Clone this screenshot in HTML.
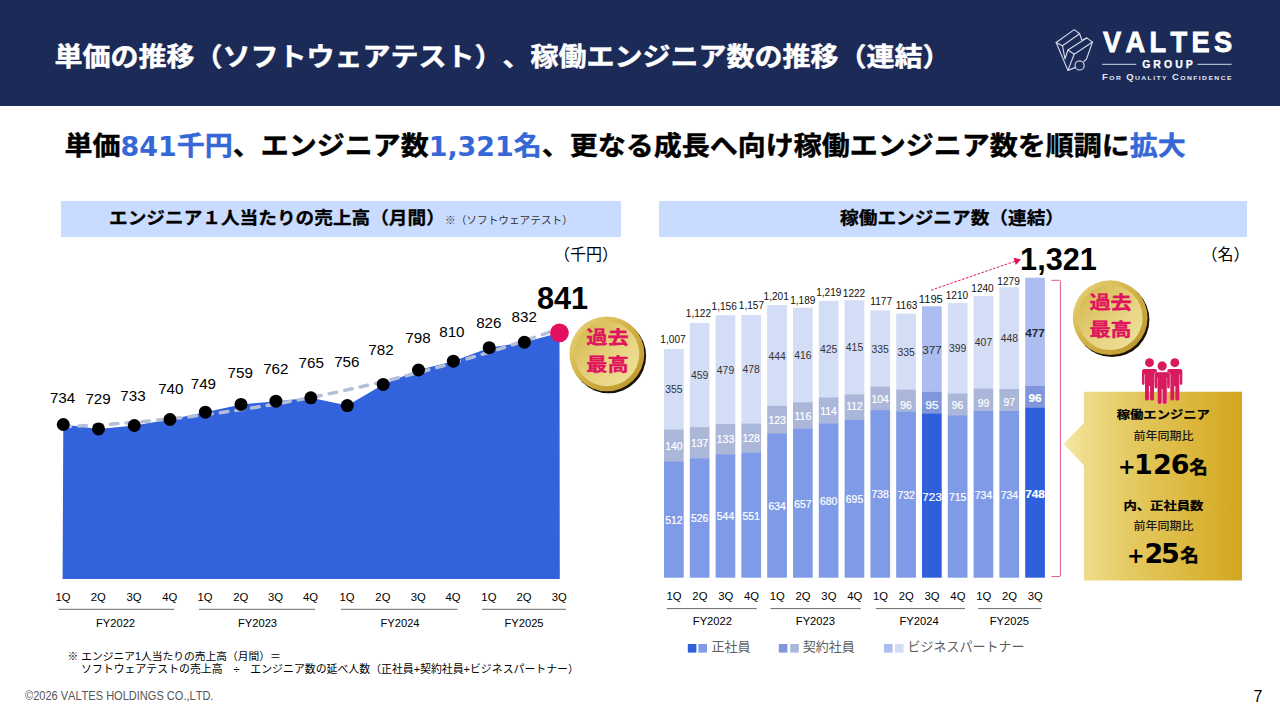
<!DOCTYPE html>
<html lang="ja"><head><meta charset="utf-8"><title>VALTES</title>
<style>
html,body{margin:0;padding:0;background:#fff}
body{width:1280px;height:720px;position:relative;overflow:hidden;font-family:"Liberation Sans","Noto Sans CJK JP",sans-serif;color:#000}
.a{position:absolute;white-space:nowrap;line-height:1;text-spacing-trim:space-all;font-kerning:none}
.c{transform:translate(-50%,-50%)}
.cy{transform:translate(0,-50%)}
.b{font-weight:700}
svg{position:absolute;left:0;top:0;overflow:visible}
svg text{text-spacing-trim:space-all;font-family:"Liberation Sans","Noto Sans CJK JP",sans-serif}
svg text.dj{font-family:"DejaVu Sans","Noto Sans CJK JP",sans-serif}
svg text.nj{font-family:"Liberation Sans","Noto Sans CJK JP",sans-serif}
.hl{color:#3667d6}
.dg{font-family:'DejaVu Sans',sans-serif;font-size:26.9px;-webkit-text-stroke:0;display:inline-block;transform:scaleY(1.064);transform-origin:50% 78%}
</style></head><body>

<div class="a" style="left:0;top:0;width:1280px;height:106px;background:#1c2a57"></div>
<div class="a b" id="ttl" style="left:54.5px;top:57.6px;transform:translate(0,-50%) scaleY(0.92);font-size:28px;color:#fff;-webkit-text-stroke:0.5px #fff;font-family:'Liberation Sans','Noto Sans CJK JP',sans-serif">単価の推移（ソフトウェアテスト<span style="display:inline-block;width:1em">）</span>、稼働エンジニア数の推移（連結）</div>
<svg width="1280" height="110" viewBox="0 0 1280 110">
<g fill="none" stroke="#d2d7e8" stroke-width="1.15" stroke-linejoin="round" stroke-linecap="round">
<path d="M1056.2 42.5 L1074.2 29.6 L1079.6 33.8 L1081.9 40.2 L1086.7 37.9 L1092.5 42.1 L1086.6 58.8 L1084 61.5"/>
<path d="M1056.2 42.5 L1067.9 70.4 L1075.6 67.4"/>
<path d="M1056.2 42.5 L1062.5 45.8 L1079.6 33.8"/>
<path d="M1062.5 45.8 L1065 58.8 L1067.9 50 L1086.7 37.9"/>
<path d="M1067.9 50 L1074.2 54.2 L1092.5 42.1"/>
<path d="M1074.2 54.2 L1067.9 70.4"/>
<circle cx="1079.6" cy="65.4" r="4.6"/>
</g>
<g stroke="#d2d7e8" stroke-width="1"><line x1="1102.2" y1="64.3" x2="1136.3" y2="64.3"/><line x1="1197.3" y1="64.3" x2="1231.6" y2="64.3"/></g>
</svg>
<div class="a b" id="valtes" style="left:1102.6px;top:26.7px;font-size:30.3px;color:#fff;-webkit-text-stroke:0.85px #fff;letter-spacing:4.8px;transform-origin:0 0;transform:scaleX(0.9)">VALTES</div>
<div class="a b c" id="group" style="left:1167.5px;top:64.2px;font-size:10.5px;color:#fff;-webkit-text-stroke:0.25px #fff;letter-spacing:3.05px;padding-left:3.05px">GROUP</div>
<div class="a b" id="fqc" style="left:1101.8px;top:73.4px;font-size:8.4px;color:#e4e7f2;letter-spacing:1.25px;font-variant:small-caps;transform-origin:0 0;transform:scaleX(1.13)">For Quality Confidence</div>
<div class="a b" id="sub" style="left:64.5px;top:147.35px;transform:translate(0,-50%) scaleY(0.94);font-size:28px;-webkit-text-stroke:0.45px;font-family:'Liberation Sans','Noto Sans CJK JP',sans-serif">単価<span class="hl"><span class="dg">841</span>千円</span>、エンジニア数<span class="hl"><span class="dg">1,321</span>名</span>、更なる成長へ向け稼働エンジニア数を順調に<span class="hl">拡大</span></div>
<div class="a" style="left:60.5px;top:201.2px;width:560px;height:36.3px;background:#c9dbfe"></div>
<div class="a" style="left:659px;top:201px;width:588px;height:36px;background:#c9dbfe"></div>
<div class="a b" id="lt" style="left:109px;top:218.55px;transform:translate(0,-50%) scaleY(0.93);font-size:18.67px;-webkit-text-stroke:0.3px;font-family:'Liberation Sans','Noto Sans CJK JP',sans-serif">エンジニア１人当たりの売上高（月間）</div>
<div class="a cy" id="lt2" style="left:445px;top:219.8px;font-size:10.67px;color:#333">※（ソフトウェアテスト）</div>
<div class="a b" id="rt" style="left:952px;top:218.55px;transform:translate(-50%,-50%) scaleY(0.93);font-size:18.67px;-webkit-text-stroke:0.3px;font-family:'Liberation Sans','Noto Sans CJK JP',sans-serif">稼働エンジニア数（連結）</div>
<div class="a c" style="left:586px;top:255px;font-size:16px">（千円）</div>
<div class="a c" style="left:1225.5px;top:255px;font-size:16px">（名）</div>
<svg width="1280" height="720" viewBox="0 0 1280 720">
<polygon points="63.3,424.5 98.5,428.9 134.3,425.5 170.0,419.5 205.4,412.2 241.0,404.4 275.9,401.2 310.8,397.8 347.3,405.6 383.2,384.4 418.5,370.0 453.4,361.2 489.2,347.7 524.4,342.2 559.5,332.8 559.8,579.1 62.6,579.1" fill="#3262dc"/>
<polyline points="63.0,426.7 75.3,426.1 87.7,425.5 100.0,424.8 112.4,424.0 124.8,423.1 137.1,422.1 149.4,420.9 161.8,419.7 174.1,418.4 186.5,417.0 198.8,415.5 211.2,413.9 223.5,412.2 235.9,410.4 248.2,408.6 260.6,406.6 272.9,404.5 285.3,402.3 297.6,400.0 310.0,397.6 322.3,395.2 334.7,392.6 347.1,389.9 359.4,387.1 371.8,384.3 384.1,381.3 396.4,378.2 408.8,375.1 421.1,371.8 433.5,368.5 445.8,365.0 458.2,361.5 470.6,357.8 482.9,354.1 495.2,350.2 507.6,346.3 520.0,342.2 532.3,338.1 544.6,333.8 557.0,329.5" fill="none" stroke="#b4bfd9" stroke-width="3.5" stroke-dasharray="7.6 8.2" stroke-linecap="round"/>
<circle cx="63.3" cy="424.5" r="6.5" fill="#000"/>
<circle cx="98.5" cy="428.9" r="6.5" fill="#000"/>
<circle cx="134.3" cy="425.5" r="6.5" fill="#000"/>
<circle cx="170.0" cy="419.5" r="6.5" fill="#000"/>
<circle cx="205.4" cy="412.2" r="6.5" fill="#000"/>
<circle cx="241.0" cy="404.4" r="6.5" fill="#000"/>
<circle cx="275.9" cy="401.2" r="6.5" fill="#000"/>
<circle cx="310.8" cy="397.8" r="6.5" fill="#000"/>
<circle cx="347.3" cy="405.6" r="6.5" fill="#000"/>
<circle cx="383.2" cy="384.4" r="6.5" fill="#000"/>
<circle cx="418.5" cy="370.0" r="6.5" fill="#000"/>
<circle cx="453.4" cy="361.2" r="6.5" fill="#000"/>
<circle cx="489.2" cy="347.7" r="6.5" fill="#000"/>
<circle cx="524.4" cy="342.2" r="6.5" fill="#000"/>
<circle cx="559.5" cy="332.8" r="9.4" fill="#e4105f"/>
<text x="62.6" y="402.8" font-size="15.2" text-anchor="middle">734</text>
<text x="98.1" y="403.9" font-size="15.2" text-anchor="middle">729</text>
<text x="133.0" y="400.8" font-size="15.2" text-anchor="middle">733</text>
<text x="170.8" y="393.8" font-size="15.2" text-anchor="middle">740</text>
<text x="203.4" y="388.8" font-size="15.2" text-anchor="middle">749</text>
<text x="240.2" y="377.8" font-size="15.2" text-anchor="middle">759</text>
<text x="275.8" y="373.9" font-size="15.2" text-anchor="middle">762</text>
<text x="311.2" y="367.7" font-size="15.2" text-anchor="middle">765</text>
<text x="346.8" y="366.9" font-size="15.2" text-anchor="middle">756</text>
<text x="381.0" y="354.7" font-size="15.2" text-anchor="middle">782</text>
<text x="418.0" y="343.4" font-size="15.2" text-anchor="middle">798</text>
<text x="451.9" y="336.7" font-size="15.2" text-anchor="middle">810</text>
<text x="488.8" y="327.8" font-size="15.2" text-anchor="middle">826</text>
<text x="524.2" y="321.6" font-size="15.2" text-anchor="middle">832</text>
<text x="562.5" y="308.9" font-size="30.7" font-weight="700" text-anchor="middle">841</text>
<text x="63.0" y="601.1" font-size="11.3" text-anchor="middle">1Q</text>
<text x="98.2" y="601.1" font-size="11.3" text-anchor="middle">2Q</text>
<text x="134.0" y="601.1" font-size="11.3" text-anchor="middle">3Q</text>
<text x="169.7" y="601.1" font-size="11.3" text-anchor="middle">4Q</text>
<text x="205.1" y="601.1" font-size="11.3" text-anchor="middle">1Q</text>
<text x="240.7" y="601.1" font-size="11.3" text-anchor="middle">2Q</text>
<text x="275.6" y="601.1" font-size="11.3" text-anchor="middle">3Q</text>
<text x="310.5" y="601.1" font-size="11.3" text-anchor="middle">4Q</text>
<text x="347.0" y="601.1" font-size="11.3" text-anchor="middle">1Q</text>
<text x="382.9" y="601.1" font-size="11.3" text-anchor="middle">2Q</text>
<text x="418.2" y="601.1" font-size="11.3" text-anchor="middle">3Q</text>
<text x="453.1" y="601.1" font-size="11.3" text-anchor="middle">4Q</text>
<text x="488.9" y="601.1" font-size="11.3" text-anchor="middle">1Q</text>
<text x="524.1" y="601.1" font-size="11.3" text-anchor="middle">2Q</text>
<text x="559.2" y="601.1" font-size="11.3" text-anchor="middle">3Q</text>
<line x1="58.6" y1="609.3" x2="174.2" y2="609.3" stroke="#6a6a6a" stroke-width="1"/>
<line x1="199.0" y1="609.3" x2="315.0" y2="609.3" stroke="#6a6a6a" stroke-width="1"/>
<line x1="341.0" y1="609.3" x2="457.5" y2="609.3" stroke="#6a6a6a" stroke-width="1"/>
<line x1="482.0" y1="609.3" x2="566.0" y2="609.3" stroke="#6a6a6a" stroke-width="1"/>
<text x="115.5" y="626.9" font-size="11.2" text-anchor="middle">FY2022</text>
<text x="257.5" y="626.9" font-size="11.2" text-anchor="middle">FY2023</text>
<text x="400.0" y="626.9" font-size="11.2" text-anchor="middle">FY2024</text>
<text x="524.0" y="626.9" font-size="11.2" text-anchor="middle">FY2025</text>
</svg>
<div class="a cy" style="left:67.5px;top:655.5px;font-size:10.75px">※ エンジニア1人当たりの売上高（月間）＝</div>
<div class="a cy" id="fn2" style="left:81px;top:668.5px;font-size:10.9px">ソフトウェアテストの売上高　÷　エンジニア数の延べ人数（正社員+契約社員+ビジネスパートナー）</div>
<div class="a" id="copy" style="left:24.8px;top:697px;font-size:11.9px;color:#555;transform-origin:0 50%;transform:translate(0,-50%) scaleX(0.928)">©2026 VALTES HOLDINGS CO.,LTD.</div>
<div class="a c" style="left:1258px;top:696.5px;font-size:16px">7</div>
<svg width="1280" height="720" viewBox="0 0 1280 720">
<rect x="664.0" y="349.0" width="19.7" height="80.9" fill="#d3ddf6"/>
<rect x="664.0" y="429.6" width="19.7" height="32.1" fill="#abb7d9"/>
<rect x="664.0" y="461.4" width="19.7" height="116.3" fill="#7f9be7"/>
<text x="673.9" y="524.0" font-size="10.4" text-anchor="middle" fill="#fff" stroke="#fff" stroke-width="0.2">512</text>
<text x="673.9" y="449.9" font-size="10.4" text-anchor="middle" fill="#fff" stroke="#fff" stroke-width="0.2">140</text>
<text x="673.9" y="393.4" font-size="10.4" text-anchor="middle" fill="#333">355</text>
<text x="673.0" y="342.8" font-size="10.1" text-anchor="middle" fill="#111">1,007</text>
<rect x="689.8" y="322.9" width="19.7" height="104.5" fill="#d3ddf6"/>
<rect x="689.8" y="427.1" width="19.7" height="31.4" fill="#abb7d9"/>
<rect x="689.8" y="458.2" width="19.7" height="119.5" fill="#7f9be7"/>
<text x="699.6" y="522.4" font-size="10.4" text-anchor="middle" fill="#fff" stroke="#fff" stroke-width="0.2">526</text>
<text x="699.6" y="447.0" font-size="10.4" text-anchor="middle" fill="#fff" stroke="#fff" stroke-width="0.2">137</text>
<text x="699.6" y="379.1" font-size="10.4" text-anchor="middle" fill="#333">459</text>
<text x="698.4" y="316.5" font-size="10.1" text-anchor="middle" fill="#111">1,122</text>
<rect x="715.6" y="315.2" width="19.7" height="109.1" fill="#d3ddf6"/>
<rect x="715.6" y="424.0" width="19.7" height="30.5" fill="#abb7d9"/>
<rect x="715.6" y="454.2" width="19.7" height="123.5" fill="#7f9be7"/>
<text x="725.5" y="520.4" font-size="10.4" text-anchor="middle" fill="#fff" stroke="#fff" stroke-width="0.2">544</text>
<text x="725.5" y="443.4" font-size="10.4" text-anchor="middle" fill="#fff" stroke="#fff" stroke-width="0.2">133</text>
<text x="725.5" y="373.7" font-size="10.4" text-anchor="middle" fill="#333">479</text>
<text x="724.2" y="309.8" font-size="10.1" text-anchor="middle" fill="#111">1,156</text>
<rect x="741.4" y="314.9" width="19.7" height="108.9" fill="#d3ddf6"/>
<rect x="741.4" y="423.5" width="19.7" height="29.4" fill="#abb7d9"/>
<rect x="741.4" y="452.6" width="19.7" height="125.1" fill="#7f9be7"/>
<text x="751.2" y="519.6" font-size="10.4" text-anchor="middle" fill="#fff" stroke="#fff" stroke-width="0.2">551</text>
<text x="751.2" y="442.4" font-size="10.4" text-anchor="middle" fill="#fff" stroke="#fff" stroke-width="0.2">128</text>
<text x="751.2" y="373.3" font-size="10.4" text-anchor="middle" fill="#333">478</text>
<text x="751.4" y="308.8" font-size="10.1" text-anchor="middle" fill="#111">1,157</text>
<rect x="767.2" y="305.0" width="19.7" height="101.1" fill="#d3ddf6"/>
<rect x="767.2" y="405.8" width="19.7" height="28.2" fill="#abb7d9"/>
<rect x="767.2" y="433.7" width="19.7" height="144.0" fill="#7f9be7"/>
<text x="777.1" y="510.1" font-size="10.4" text-anchor="middle" fill="#fff" stroke="#fff" stroke-width="0.2">634</text>
<text x="777.1" y="424.1" font-size="10.4" text-anchor="middle" fill="#fff" stroke="#fff" stroke-width="0.2">123</text>
<text x="777.1" y="359.5" font-size="10.4" text-anchor="middle" fill="#333">444</text>
<text x="776.2" y="299.8" font-size="10.1" text-anchor="middle" fill="#111">1,201</text>
<rect x="793.0" y="307.7" width="19.7" height="94.8" fill="#d3ddf6"/>
<rect x="793.0" y="402.2" width="19.7" height="26.6" fill="#abb7d9"/>
<rect x="793.0" y="428.5" width="19.7" height="149.2" fill="#7f9be7"/>
<text x="802.9" y="507.5" font-size="10.4" text-anchor="middle" fill="#fff" stroke="#fff" stroke-width="0.2">657</text>
<text x="802.9" y="419.6" font-size="10.4" text-anchor="middle" fill="#fff" stroke="#fff" stroke-width="0.2">116</text>
<text x="802.9" y="359.0" font-size="10.4" text-anchor="middle" fill="#333">416</text>
<text x="802.8" y="303.5" font-size="10.1" text-anchor="middle" fill="#111">1,189</text>
<rect x="818.8" y="300.9" width="19.7" height="96.8" fill="#d3ddf6"/>
<rect x="818.8" y="397.4" width="19.7" height="26.2" fill="#abb7d9"/>
<rect x="818.8" y="423.3" width="19.7" height="154.4" fill="#7f9be7"/>
<text x="828.6" y="504.9" font-size="10.4" text-anchor="middle" fill="#fff" stroke="#fff" stroke-width="0.2">680</text>
<text x="828.6" y="414.7" font-size="10.4" text-anchor="middle" fill="#fff" stroke="#fff" stroke-width="0.2">114</text>
<text x="828.6" y="353.2" font-size="10.4" text-anchor="middle" fill="#333">425</text>
<text x="828.8" y="295.6" font-size="10.1" text-anchor="middle" fill="#111">1,219</text>
<rect x="844.6" y="300.2" width="19.7" height="94.5" fill="#d3ddf6"/>
<rect x="844.6" y="394.4" width="19.7" height="25.7" fill="#abb7d9"/>
<rect x="844.6" y="419.9" width="19.7" height="157.8" fill="#7f9be7"/>
<text x="854.5" y="503.2" font-size="10.4" text-anchor="middle" fill="#fff" stroke="#fff" stroke-width="0.2">695</text>
<text x="854.5" y="409.7" font-size="10.4" text-anchor="middle" fill="#fff" stroke="#fff" stroke-width="0.2">112</text>
<text x="854.5" y="351.4" font-size="10.4" text-anchor="middle" fill="#333">415</text>
<text x="854.0" y="296.6" font-size="10.1" text-anchor="middle" fill="#111">1222</text>
<rect x="870.4" y="310.4" width="19.7" height="76.4" fill="#d3ddf6"/>
<rect x="870.4" y="386.5" width="19.7" height="23.9" fill="#abb7d9"/>
<rect x="870.4" y="410.1" width="19.7" height="167.6" fill="#7f9be7"/>
<text x="880.2" y="498.3" font-size="10.4" text-anchor="middle" fill="#fff" stroke="#fff" stroke-width="0.2">738</text>
<text x="880.2" y="403.4" font-size="10.4" text-anchor="middle" fill="#fff" stroke="#fff" stroke-width="0.2">104</text>
<text x="880.2" y="352.6" font-size="10.4" text-anchor="middle" fill="#333">335</text>
<text x="881.2" y="304.6" font-size="10.1" text-anchor="middle" fill="#111">1177</text>
<rect x="896.2" y="313.6" width="19.7" height="76.4" fill="#d3ddf6"/>
<rect x="896.2" y="389.7" width="19.7" height="22.1" fill="#abb7d9"/>
<rect x="896.2" y="411.5" width="19.7" height="166.2" fill="#7f9be7"/>
<text x="906.1" y="499.0" font-size="10.4" text-anchor="middle" fill="#fff" stroke="#fff" stroke-width="0.2">732</text>
<text x="906.1" y="408.7" font-size="10.4" text-anchor="middle" fill="#fff" stroke="#fff" stroke-width="0.2">96</text>
<text x="906.1" y="355.7" font-size="10.4" text-anchor="middle" fill="#333">335</text>
<text x="906.6" y="308.5" font-size="10.1" text-anchor="middle" fill="#111">1163</text>
<rect x="922.0" y="306.3" width="19.7" height="85.9" fill="#adbdef"/>
<rect x="922.0" y="391.9" width="19.7" height="21.9" fill="#7f96dd"/>
<rect x="922.0" y="413.5" width="19.7" height="164.2" fill="#2f5fdb"/>
<text x="931.9" y="500.5" font-size="11.7" text-anchor="middle" fill="#fff" stroke="#fff" stroke-width="0.2">723</text>
<text x="931.9" y="409.0" font-size="11.7" text-anchor="middle" fill="#fff" stroke="#fff" stroke-width="0.2">95</text>
<text x="931.9" y="353.7" font-size="11.7" text-anchor="middle" fill="#333">377</text>
<text x="930.8" y="302.8" font-size="11.2" text-anchor="middle" fill="#111">1195</text>
<rect x="947.8" y="302.9" width="19.7" height="90.9" fill="#d3ddf6"/>
<rect x="947.8" y="393.5" width="19.7" height="22.1" fill="#abb7d9"/>
<rect x="947.8" y="415.3" width="19.7" height="162.4" fill="#7f9be7"/>
<text x="957.6" y="500.9" font-size="10.4" text-anchor="middle" fill="#fff" stroke="#fff" stroke-width="0.2">715</text>
<text x="957.6" y="408.7" font-size="10.4" text-anchor="middle" fill="#fff" stroke="#fff" stroke-width="0.2">96</text>
<text x="957.6" y="352.3" font-size="10.4" text-anchor="middle" fill="#333">399</text>
<text x="956.9" y="298.6" font-size="10.1" text-anchor="middle" fill="#111">1210</text>
<rect x="973.6" y="296.1" width="19.7" height="92.7" fill="#d3ddf6"/>
<rect x="973.6" y="388.5" width="19.7" height="22.8" fill="#abb7d9"/>
<rect x="973.6" y="411.0" width="19.7" height="166.7" fill="#7f9be7"/>
<text x="983.5" y="498.8" font-size="10.4" text-anchor="middle" fill="#fff" stroke="#fff" stroke-width="0.2">734</text>
<text x="983.5" y="406.7" font-size="10.4" text-anchor="middle" fill="#fff" stroke="#fff" stroke-width="0.2">99</text>
<text x="983.5" y="346.4" font-size="10.4" text-anchor="middle" fill="#333">407</text>
<text x="982.5" y="291.6" font-size="10.1" text-anchor="middle" fill="#111">1240</text>
<rect x="999.4" y="287.2" width="19.7" height="102.0" fill="#d3ddf6"/>
<rect x="999.4" y="389.0" width="19.7" height="22.3" fill="#abb7d9"/>
<rect x="999.4" y="411.0" width="19.7" height="166.7" fill="#7f9be7"/>
<text x="1009.3" y="498.8" font-size="10.4" text-anchor="middle" fill="#fff" stroke="#fff" stroke-width="0.2">734</text>
<text x="1009.3" y="405.8" font-size="10.4" text-anchor="middle" fill="#fff" stroke="#fff" stroke-width="0.2">97</text>
<text x="1009.3" y="342.2" font-size="10.4" text-anchor="middle" fill="#333">448</text>
<text x="1008.6" y="284.8" font-size="10.1" text-anchor="middle" fill="#111">1279</text>
<rect x="1025.2" y="277.7" width="19.7" height="108.6" fill="#adbdef"/>
<rect x="1025.2" y="386.0" width="19.7" height="22.1" fill="#7f96dd"/>
<rect x="1025.2" y="407.8" width="19.7" height="169.9" fill="#2f5fdb"/>
<text x="1035.0" y="497.7" font-size="11.8" text-anchor="middle" fill="#fff" stroke="#fff" stroke-width="0.2" font-weight="700">748</text>
<text x="1035.0" y="401.8" font-size="11.8" text-anchor="middle" fill="#fff" stroke="#fff" stroke-width="0.2" font-weight="700">96</text>
<text x="1035.0" y="336.5" font-size="11.8" text-anchor="middle" fill="#23283c" font-weight="700">477</text>
<text x="1058.5" y="270" font-size="30.7" font-weight="700" text-anchor="middle">1,321</text>
<line x1="931" y1="290.2" x2="1015" y2="261.3" stroke="#e0185f" stroke-width="1" stroke-dasharray="2.6 1.5"/>
<polygon points="1021,259.4 1013.5,257.8 1015.8,265" fill="#e0115c"/>
<path d="M1051.3 280.3 H1059.4 Q1060.4 280.3 1060.4 281.3 V575.6 Q1060.4 576.6 1059.4 576.6 H1051.3" fill="none" stroke="#d6588a" stroke-width="1"/>
<text x="674.1" y="600" font-size="11.3" text-anchor="middle">1Q</text>
<text x="699.9" y="600" font-size="11.3" text-anchor="middle">2Q</text>
<text x="725.7" y="600" font-size="11.3" text-anchor="middle">3Q</text>
<text x="751.5" y="600" font-size="11.3" text-anchor="middle">4Q</text>
<text x="777.3" y="600" font-size="11.3" text-anchor="middle">1Q</text>
<text x="803.1" y="600" font-size="11.3" text-anchor="middle">2Q</text>
<text x="828.9" y="600" font-size="11.3" text-anchor="middle">3Q</text>
<text x="854.7" y="600" font-size="11.3" text-anchor="middle">4Q</text>
<text x="880.5" y="600" font-size="11.3" text-anchor="middle">1Q</text>
<text x="906.3" y="600" font-size="11.3" text-anchor="middle">2Q</text>
<text x="932.1" y="600" font-size="11.3" text-anchor="middle">3Q</text>
<text x="957.9" y="600" font-size="11.3" text-anchor="middle">4Q</text>
<text x="983.7" y="600" font-size="11.3" text-anchor="middle">1Q</text>
<text x="1009.5" y="600" font-size="11.3" text-anchor="middle">2Q</text>
<text x="1035.2" y="600" font-size="11.3" text-anchor="middle">3Q</text>
<line x1="666.8" y1="608.6" x2="756.7" y2="608.6" stroke="#6a6a6a" stroke-width="1"/>
<line x1="770.5" y1="608.6" x2="860.7" y2="608.6" stroke="#6a6a6a" stroke-width="1"/>
<line x1="875.8" y1="608.6" x2="965.0" y2="608.6" stroke="#6a6a6a" stroke-width="1"/>
<line x1="978.2" y1="608.6" x2="1041.5" y2="608.6" stroke="#6a6a6a" stroke-width="1"/>
<text x="712.4" y="624.8" font-size="11.2" text-anchor="middle">FY2022</text>
<text x="815.4" y="624.8" font-size="11.2" text-anchor="middle">FY2023</text>
<text x="919.1" y="624.8" font-size="11.2" text-anchor="middle">FY2024</text>
<text x="1009.3" y="624.8" font-size="11.2" text-anchor="middle">FY2025</text>
<rect x="687.8" y="644" width="8.6" height="8.6" fill="#2f5fdb"/>
<rect x="698.4" y="644" width="8.6" height="8.6" fill="#7f9be7"/>
<text x="711.4" y="651.1" font-size="13" fill="#5e5e5e">正社員</text>
<rect x="778.8" y="644" width="8.6" height="8.6" fill="#7f96dd"/>
<rect x="790.2" y="644" width="8.6" height="8.6" fill="#abb7d9"/>
<text x="802.8" y="651.1" font-size="13" fill="#5e5e5e">契約社員</text>
<rect x="884.0" y="644" width="8.6" height="8.6" fill="#adbdef"/>
<rect x="895.0" y="644" width="8.6" height="8.6" fill="#d3ddf6"/>
<text x="907.6" y="651.1" font-size="13" fill="#5e5e5e">ビジネスパートナー</text>
</svg>
<svg width="1280" height="720" viewBox="0 0 1280 720">
<defs>
<linearGradient id="m1a" x1="0" y1="0" x2="1" y2="1"><stop offset="0" stop-color="#e9d67e"/><stop offset="0.5" stop-color="#d2b043"/><stop offset="1" stop-color="#b8922a"/></linearGradient>
<linearGradient id="m1b" x1="0" y1="0" x2="1" y2="1"><stop offset="0.1" stop-color="#d7ba54"/><stop offset="0.6" stop-color="#e8d584"/><stop offset="0.95" stop-color="#efe09a"/></linearGradient>
</defs>
<circle cx="608.7" cy="355.9" r="37.4" fill="#1a1205"/>
<circle cx="606.9" cy="353.9" r="37.4" fill="url(#m1a)"/>
<circle cx="606.9" cy="353.9" r="32.4" fill="url(#m1b)"/>
</svg>
<svg width="1280" height="720" viewBox="0 0 1280 720">
<defs>
<linearGradient id="m2a" x1="0" y1="0" x2="1" y2="1"><stop offset="0" stop-color="#e9d67e"/><stop offset="0.5" stop-color="#d2b043"/><stop offset="1" stop-color="#b8922a"/></linearGradient>
<linearGradient id="m2b" x1="0" y1="0" x2="1" y2="1"><stop offset="0.1" stop-color="#d7ba54"/><stop offset="0.6" stop-color="#e8d584"/><stop offset="0.95" stop-color="#efe09a"/></linearGradient>
</defs>
<circle cx="1112.0" cy="319.7" r="37.4" fill="#1a1205"/>
<circle cx="1110.2" cy="317.7" r="37.4" fill="url(#m2a)"/>
<circle cx="1110.2" cy="317.7" r="32.4" fill="url(#m2b)"/>
</svg>
<div class="a b" style="left:607.4px;top:352.1px;font-size:21.2px;line-height:30.8px;color:#e0135f;-webkit-text-stroke:0.4px;text-align:center;transform:translate(-50%,-50%) scaleY(0.86);font-family:'Liberation Sans','Noto Sans CJK JP',sans-serif">過去<br>最高</div>
<div class="a b" style="left:1110.6px;top:316.9px;font-size:21.2px;line-height:30.8px;color:#e0135f;-webkit-text-stroke:0.4px;text-align:center;transform:translate(-50%,-50%) scaleY(0.86);font-family:'Liberation Sans','Noto Sans CJK JP',sans-serif">過去<br>最高</div>
<svg width="1280" height="720" viewBox="0 0 1280 720">
<defs><linearGradient id="gb" gradientUnits="userSpaceOnUse" x1="1062" y1="0" x2="1242" y2="0"><stop offset="0" stop-color="#f6e9aa"/><stop offset="0.12" stop-color="#f0dc8a"/><stop offset="0.36" stop-color="#e5cb64"/><stop offset="1" stop-color="#d3a71d"/></linearGradient></defs>
<polygon points="1083.9,391.7 1242,391.7 1242,580.5 1083.9,580.5 1083.9,465.5 1063.7,443.8 1083.9,423" fill="url(#gb)"/>
<g fill="#d81b5e"><g transform="translate(1149.50,369.00)"><circle cx="0" cy="-6.3" r="4.45"/><path d="M-5.5 0 H5.5 Q7.5 0 7.5 2 V14.6 Q7.5 16 6.25 16 Q5 16 5 14.6 V5.2 H4.5 V30 Q4.5 31.6 2.55 31.6 Q0.55 31.6 0.55 30 V17 H-0.55 V30 Q-0.55 31.6 -2.55 31.6 Q-4.5 31.6 -4.5 30 V5.2 H-5 V14.6 Q-5 16 -6.25 16 Q-7.5 16 -7.5 14.6 V2 Q-7.5 0 -5.5 0 Z"/></g><g transform="translate(1174.80,369.00)"><circle cx="0" cy="-6.3" r="4.45"/><path d="M-5.5 0 H5.5 Q7.5 0 7.5 2 V14.6 Q7.5 16 6.25 16 Q5 16 5 14.6 V5.2 H4.5 V30 Q4.5 31.6 2.55 31.6 Q0.55 31.6 0.55 30 V17 H-0.55 V30 Q-0.55 31.6 -2.55 31.6 Q-4.5 31.6 -4.5 30 V5.2 H-5 V14.6 Q-5 16 -6.25 16 Q-7.5 16 -7.5 14.6 V2 Q-7.5 0 -5.5 0 Z"/></g><g transform="translate(1162.20,372.30)" stroke="#f7b3ca" stroke-width="0.9" paint-order="stroke"><circle cx="0" cy="-6.3" r="4.45"/><path d="M-5.5 0 H5.5 Q7.5 0 7.5 2 V14.6 Q7.5 16 6.25 16 Q5 16 5 14.6 V5.2 H4.5 V30 Q4.5 31.6 2.55 31.6 Q0.55 31.6 0.55 30 V17 H-0.55 V30 Q-0.55 31.6 -2.55 31.6 Q-4.5 31.6 -4.5 30 V5.2 H-5 V14.6 Q-5 16 -6.25 16 Q-7.5 16 -7.5 14.6 V2 Q-7.5 0 -5.5 0 Z"/></g></g>
</svg>
<div class="a b" style="left:1163.3px;top:415.15px;transform:translate(-50%,-50%) scaleY(0.88);font-size:13.33px;-webkit-text-stroke:0.25px;font-family:'Liberation Sans','Noto Sans CJK JP',sans-serif">稼働エンジニア</div>
<div class="a" style="left:1163.6px;top:436px;transform:translate(-50%,-50%) scaleY(0.9);font-size:12px;color:#1a1a1a;font-weight:500">前年同期比</div>
<div class="a b" style="left:1163.4px;top:506.35px;transform:translate(-50%,-50%) scaleY(0.88);font-size:13.33px;-webkit-text-stroke:0.25px;font-family:'Liberation Sans','Noto Sans CJK JP',sans-serif">内、正社員数</div>
<div class="a" style="left:1163.6px;top:526px;transform:translate(-50%,-50%) scaleY(0.9);font-size:12px;color:#1a1a1a;font-weight:500">前年同期比</div>
<svg width="1280" height="720" viewBox="0 0 1280 720"><g font-weight="700">
<text class="dj" x="1118" y="474" font-size="21">+</text>
<text class="dj" x="1133.9 1153.1 1170.8" y="474" font-size="27">126</text>
<text class="nj" x="1189.3" y="474" font-size="18.5" stroke="#000" stroke-width="0.4">名</text>
<text class="dj" x="1126.9" y="562.7" font-size="21">+</text>
<text class="dj" x="1144.6 1161.1" y="563.1" font-size="27">25</text>
<text class="nj" x="1180.2" y="562.3" font-size="18.5" stroke="#000" stroke-width="0.4">名</text>
</g></svg>
</body></html>
